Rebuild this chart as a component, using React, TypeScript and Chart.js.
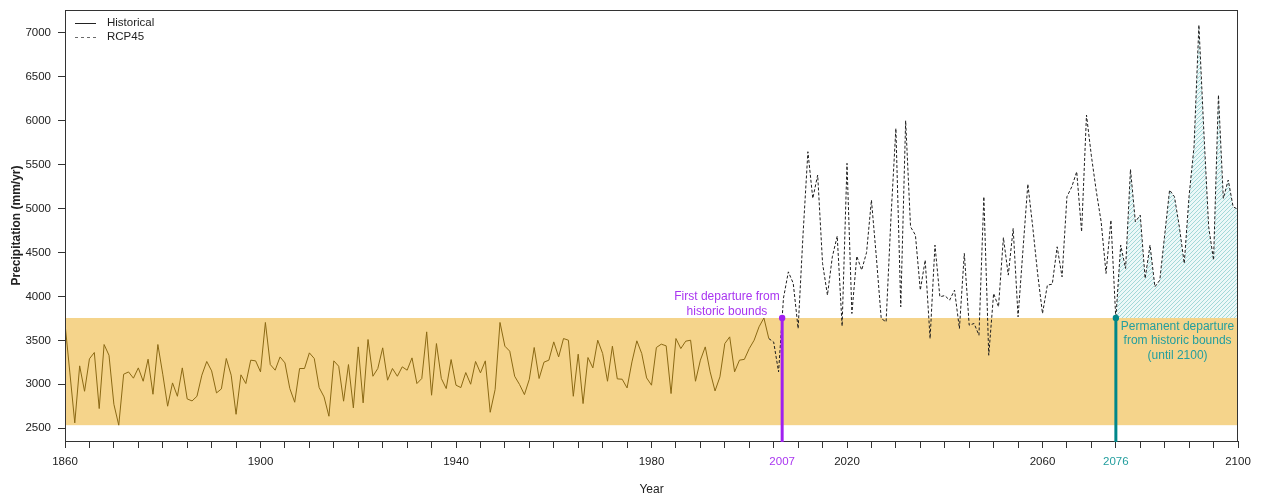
import React, { useEffect, useRef } from 'react';
import { Chart, registerables } from 'chart.js';

Chart.register(...registerables);

const FONT = '"Liberation Sans", Arial, Helvetica, sans-serif';

// ---------- data ----------
const histStartYear = 1860;
const histValues = [
  3690, 3130, 2561, 3210, 2921, 3290, 3362, 2724, 3453, 3331, // 1860-1869
  2773, 2535, 3115, 3141, 3070, 3187, 3035, 3286, 2887, 3453, // 1870-1879
  3115, 2751, 3016, 2864, 3187, 2834, 2811, 2864, 3104, 3260, // 1880-1889
  3153, 2902, 2948, 3294, 3104, 2659, 3108, 3009, 3275, 3267, // 1890-1899
  3142, 3704, 3225, 3161, 3312, 3244, 2952, 2796, 3180, 3180, // 1900-1909
  3358, 3294, 2963, 2857, 2637, 3267, 3206, 2808, 3225, 2732, // 1910-1919
  3426, 2789, 3510, 3092, 3180, 3415, 3047, 3180, 3092, 3199, // 1920-1929
  3161, 3301, 3009, 3066, 3597, 2876, 3464, 3066, 2952, 3282, // 1930-1939
  2990, 2963, 3134, 3001, 3260, 3130, 3267, 2682, 2940, 3704, // 1940-1949
  3434, 3377, 3092, 2998, 2883, 3058, 3419, 3066, 3252, 3275, // 1950-1959
  3483, 3312, 3521, 3502, 2864, 3343, 2781, 3305, 3187, 3502, // 1960-1969
  3351, 3035, 3434, 3062, 3058, 2959, 3255, 3495, 3351, 3073, // 1970-1979
  2990, 3419, 3457, 3438, 2895, 3521, 3407, 3491, 3502, 3035, // 1980-1989
  3275, 3426, 3142, 2925, 3085, 3464, 3540, 3142, 3275, 3284, // 1990-1999
  3407, 3502, 3654, 3755, 3521, // 2000-2004
];

const rcpStartYear = 2005;
const rcpValues = [
  3480, 3142, 3980, 4280, 4150, // 2005-2009
  3635, 4700, 5647, 5116, 5382, 4376, 4015, 4451, 4687, 3662, // 2010-2019
  5515, 3806, 4459, 4300, 4500, 5097, 4451, 3749, 3711, 4900, // 2020-2029
  5913, 3882, 6000, 4793, 4698, 4072, 4414, 3521, 4584, 3996, // 2030-2039
  4010, 3958, 4072, 3635, 4490, 3673, 3692, 3559, 5135, 3331, // 2040-2049
  4034, 3882, 4670, 4243, 4774, 3768, 4527, 5279, 4793, 4262, // 2050-2059
  3806, 4129, 4140, 4565, 4223, 5135, 5249, 5420, 4736, 6065, // 2060-2069
  5600, 5200, 4850, 4262, 4869, 3745, 4584, 4319, 5446, 4850, // 2070-2079
  4926, 4205, 4584, 4110, 4186, 4700, 5211, 5135, 4793, 4376, // 2080-2089
  5150, 5700, 7090, 5890, 4793, 4414, 6293, 5116, 5325, 5021, // 2090-2099
  4991, // 2100
];

const xLabelYears = [1860, 1900, 1940, 1980, 2020, 2060, 2100];
const yTickValues = [2500, 3000, 3500, 4000, 4500, 5000, 5500, 6000, 6500, 7000];
const firstDepartureLines = ['First departure from', 'historic bounds'];
const permanentDepartureLines = ['Permanent departure', 'from historic bounds', '(until 2100)'];

// ---------- styles ----------
const HIST_COLOR = '#8B6914';
const RCP_COLOR = '#1e1e1e';
const BAND_COLOR = '#F5D48B';
const PURPLE = '#A020F0';
const PURPLE_TEXT = '#A935F0';
const TEAL = '#00878A';
const TEAL_TEXT = '#239E9E';
const AXIS_COLOR = '#333333';
const TEXT_COLOR = '#222222';
const TICK_SIZE = 11.5;
const NOTE_SIZE = 12;

function makeHatch(): CanvasPattern | string {
  const s = 4;
  const c = document.createElement('canvas');
  c.width = s;
  c.height = s;
  const g = c.getContext('2d');
  if (!g) return 'rgba(0,150,150,0.2)';
  g.fillStyle = 'rgba(120,205,205,0.14)';
  g.fillRect(0, 0, s, s);
  g.strokeStyle = 'rgba(30,160,160,0.6)';
  g.lineWidth = 0.6;
  g.beginPath();
  g.moveTo(0, s);
  g.lineTo(s, 0);
  g.moveTo(-1, 1);
  g.lineTo(1, -1);
  g.moveTo(s - 1, s + 1);
  g.lineTo(s + 1, s - 1);
  g.stroke();
  return g.createPattern(c, 'repeat') || 'rgba(0,150,150,0.2)';
}

export default function App() {
  const ref = useRef<HTMLCanvasElement>(null);

  useEffect(() => {
    const canvas = ref.current;
    if (!canvas) return;

    const histData = histValues.map((v, i) => ({ x: histStartYear + i, y: v }));
    const lastHist = histData[histData.length - 1];
    const rcpPts = rcpValues.map((v, i) => ({ x: rcpStartYear + i, y: v }));
    const rcpData = [lastHist, ...rcpPts];

    const bandTop = Math.max(...histValues);
    const bandBottom = Math.min(...histValues);

    // crossings of the projection above the historic max
    const crossings: number[] = [];
    for (let i = 1; i < rcpData.length; i++) {
      const a = rcpData[i - 1];
      const b = rcpData[i];
      if (a.y <= bandTop && b.y > bandTop) {
        crossings.push(a.x + (bandTop - a.y) / (b.y - a.y) * (b.x - a.x));
      }
    }
    const firstCross = crossings[0];
    const permCross = crossings[crossings.length - 1];
    const firstYear = Math.ceil(firstCross);
    const permYear = Math.ceil(permCross);

    const hatch = makeHatch();

    const xTicks: number[] = [];
    for (let v = 1860; v <= 2100; v += 5) xTicks.push(v);

    const bgPlugin = {
      id: 'bg',
      beforeDatasetsDraw(chart: any) {
        const { ctx, chartArea, scales } = chart;
        const xs = scales.x;
        const ys = scales.y;
        ctx.save();
        const yT = ys.getPixelForValue(bandTop);
        const yB = ys.getPixelForValue(bandBottom);
        ctx.fillStyle = BAND_COLOR;
        ctx.fillRect(chartArea.left, yT, chartArea.right - chartArea.left, yB - yT);
        ctx.beginPath();
        ctx.moveTo(xs.getPixelForValue(permCross), yT);
        rcpData.forEach((p) => {
          if (p.x > permCross) ctx.lineTo(xs.getPixelForValue(p.x), ys.getPixelForValue(p.y));
        });
        ctx.lineTo(xs.getPixelForValue(rcpData[rcpData.length - 1].x), yT);
        ctx.closePath();
        ctx.fillStyle = hatch;
        ctx.fill();
        ctx.restore();
      },
    };

    const overlayPlugin = {
      id: 'overlay',
      afterDatasetsDraw(chart: any) {
        const { ctx, chartArea, scales } = chart;
        const xs = scales.x;
        const ys = scales.y;
        const yT = ys.getPixelForValue(bandTop);
        ctx.save();

        ctx.strokeStyle = AXIS_COLOR;
        ctx.lineWidth = 1;
        ctx.strokeRect(chartArea.left + 0.5, chartArea.top + 0.5, chartArea.right - chartArea.left - 1, chartArea.bottom - chartArea.top);

        const drawMarker = (xv: number, color: string) => {
          const px = xs.getPixelForValue(xv);
          ctx.strokeStyle = color;
          ctx.lineWidth = 3;
          ctx.beginPath();
          ctx.moveTo(px, yT);
          ctx.lineTo(px, chartArea.bottom + 1);
          ctx.stroke();
          ctx.fillStyle = color;
          ctx.beginPath();
          ctx.arc(px, yT, 3.2, 0, Math.PI * 2);
          ctx.fill();
          return px;
        };
        const p1 = drawMarker(firstCross, PURPLE);
        const p2 = drawMarker(permCross, TEAL);

        ctx.font = `${NOTE_SIZE}px ${FONT}`;
        ctx.textBaseline = 'middle';
        ctx.textAlign = 'center';

        const w1 = Math.max(...firstDepartureLines.map((t) => ctx.measureText(t).width));
        const c1 = p1 - 2.5 - w1 / 2;
        ctx.fillStyle = PURPLE_TEXT;
        firstDepartureLines.forEach((t, i) => {
          ctx.fillText(t, c1, yT - 21 + i * 15);
        });

        const w2 = Math.max(...permanentDepartureLines.map((t) => ctx.measureText(t).width));
        const c2 = p2 + 5 + w2 / 2;
        ctx.fillStyle = TEAL_TEXT;
        permanentDepartureLines.forEach((t, i) => {
          ctx.fillText(t, c2, yT + 8.5 + i * 14.5);
        });

        ctx.font = `${TICK_SIZE}px ${FONT}`;
        const labelY = chartArea.bottom + 7 + 7 + 6.8;
        ctx.fillStyle = PURPLE_TEXT;
        ctx.fillText(String(firstYear), p1, labelY);
        ctx.fillStyle = TEAL_TEXT;
        ctx.fillText(String(permYear), p2, labelY);

        ctx.fillStyle = TEXT_COLOR;
        ctx.font = `${NOTE_SIZE}px ${FONT}`;
        ctx.fillText('Year', (chartArea.left + chartArea.right) / 2, 490);
        ctx.save();
        ctx.font = `bold ${NOTE_SIZE}px ${FONT}`;
        ctx.translate(17, (chartArea.top + chartArea.bottom) / 2);
        ctx.rotate(-Math.PI / 2);
        ctx.fillText('Precipitation (mm/yr)', 0, 0);
        ctx.restore();

        // legend
        const lx0 = chartArea.left + 10;
        const lx1 = chartArea.left + 31;
        ctx.lineWidth = 1;
        ctx.strokeStyle = TEXT_COLOR;
        ctx.setLineDash([]);
        ctx.beginPath();
        ctx.moveTo(lx0, 23.5);
        ctx.lineTo(lx1, 23.5);
        ctx.stroke();
        ctx.strokeStyle = '#6a6a6a';
        ctx.setLineDash([3, 3]);
        ctx.beginPath();
        ctx.moveTo(lx0, 37.5);
        ctx.lineTo(lx1, 37.5);
        ctx.stroke();
        ctx.setLineDash([]);
        ctx.textAlign = 'left';
        ctx.fillStyle = TEXT_COLOR;
        ctx.font = `${TICK_SIZE}px ${FONT}`;
        ctx.fillText('Historical', chartArea.left + 42, 23);
        ctx.fillText('RCP45', chartArea.left + 42, 37);

        ctx.restore();
      },
    };

    const chart = new Chart(canvas, {
      type: 'line',
      data: {
        datasets: [
          {
            label: 'Historical',
            data: histData,
            borderColor: HIST_COLOR,
            borderWidth: 1,
            pointRadius: 0,
            fill: false,
            tension: 0,
          },
          {
            label: 'RCP45',
            data: rcpData,
            borderColor: RCP_COLOR,
            borderWidth: 1,
            borderDash: [3, 2],
            pointRadius: 0,
            fill: false,
            tension: 0,
          },
        ],
      },
      options: {
        animation: false,
        responsive: false,
        devicePixelRatio: 1,
        layout: { padding: { left: 0, right: 26, top: 10, bottom: 0 } },
        plugins: { legend: { display: false }, tooltip: { enabled: false } },
        scales: {
          x: {
            type: 'linear',
            min: 1860,
            max: 2100,
            afterBuildTicks: (s: any) => {
              s.ticks = xTicks.map((v) => ({ value: v }));
            },
            ticks: {
              autoSkip: false,
              maxRotation: 0,
              minRotation: 0,
              color: TEXT_COLOR,
              font: { family: FONT, size: TICK_SIZE },
              padding: 7,
              callback: (v: any) => (xLabelYears.includes(Number(v)) ? String(v) : ''),
            },
            grid: { drawOnChartArea: false, drawTicks: true, tickLength: 7, color: AXIS_COLOR },
            border: { display: true, color: AXIS_COLOR },
            afterFit: (s: any) => {
              s.height = 56;
              s.paddingLeft = 0;
              s.paddingRight = 0;
            },
          },
          y: {
            type: 'linear',
            min: 2355,
            max: 7260,
            afterBuildTicks: (s: any) => {
              s.ticks = yTickValues.map((v) => ({ value: v }));
            },
            ticks: {
              color: TEXT_COLOR,
              font: { family: FONT, size: TICK_SIZE },
              padding: 7,
              callback: (v: any) => String(v),
            },
            grid: { drawOnChartArea: false, drawTicks: true, tickLength: 7, color: AXIS_COLOR },
            border: { display: true, color: AXIS_COLOR },
            afterFit: (s: any) => {
              s.width = 65;
              s.paddingTop = 0;
              s.paddingBottom = 0;
            },
          },
        },
      },
      plugins: [bgPlugin, overlayPlugin],
    } as any);

    return () => chart.destroy();
  }, []);

  return (
    <div style={{ position: 'fixed', left: 0, top: 0, width: 1264, height: 497, background: '#fff' }}>
      <canvas ref={ref} width={1264} height={497} style={{ display: 'block', width: 1264, height: 497 }} />
    </div>
  );
}
